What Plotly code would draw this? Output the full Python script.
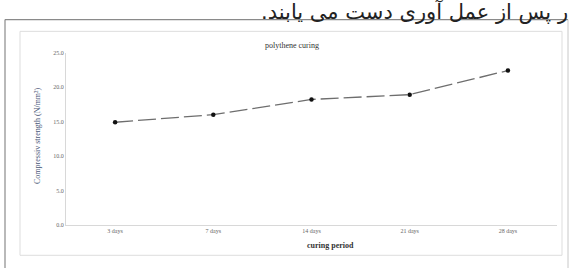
import plotly.graph_objects as go

categories = ["3 days", "7 days", "14 days", "21 days", "28 days"]
strength = [14.9, 16.0, 18.2, 18.9, 22.4]
y_ticks = [0, 5, 10, 15, 20, 25]
y_tick_labels = ["0.0", "5.0", "10.0", "15.0", "20.0", "25.0"]

W, H = 571, 271
def px(x): return x / W
def py(y): return 1 - y / H

fig = go.Figure()
fig.add_trace(go.Scatter(
    x=categories, y=strength, mode="lines+markers",
    line=dict(color="#6e6e6e", width=1.3, dash="18px,5px"),
    marker=dict(color="#111111", size=4.5),
    showlegend=False, cliponaxis=False,
))

fig.update_layout(
    width=W, height=H,
    margin=dict(l=0, r=0, t=0, b=0),
    paper_bgcolor="white", plot_bgcolor="white",
    font=dict(family="Liberation Serif", color="#555555"),
    xaxis=dict(
        domain=[px(66), px(557)], range=[-0.5, 4.5], type="category",
        showgrid=False, showline=True, linecolor="#d8d8d8", linewidth=1,
        ticks="", tickfont=dict(size=6, color="#666666"),
        anchor="y",
    ),
    yaxis=dict(
        domain=[py(227), py(50.7)], range=[0, 25],
        tickvals=y_ticks, ticktext=y_tick_labels,
        showgrid=False, showline=True, linecolor="#d8d8d8", linewidth=1,
        ticks="", tickfont=dict(size=6, color="#666666"), zeroline=False,
    ),
    shapes=[
        dict(type="line", xref="paper", yref="paper", x0=px(5), x1=px(568), y0=py(17), y1=py(17),
             line=dict(color="#8a8a8a", width=1.2)),
        dict(type="line", xref="paper", yref="paper", x0=px(5), x1=px(5), y0=py(17), y1=py(271),
             line=dict(color="#8a8a8a", width=1.2)),
        dict(type="line", xref="paper", yref="paper", x0=px(568), x1=px(568), y0=py(17), y1=py(271),
             line=dict(color="#c8c8c8", width=1)),
        dict(type="rect", xref="paper", yref="paper", x0=px(20), x1=px(562), y0=py(258), y1=py(29),
             line=dict(color="#dddddd", width=1)),
    ],
    annotations=[
        dict(text="\u200fر پس از عمل آوری دست می یابند.\u200f", xref="paper", yref="paper",
             x=px(570), y=py(8.5), xanchor="right", yanchor="middle", showarrow=False,
             font=dict(family="DejaVu Sans", size=21, color="#222222")),
        dict(text="polythene curing", xref="paper", yref="paper",
             x=px(292), y=py(43), xanchor="center", yanchor="middle", showarrow=False,
             font=dict(size=8, color="#333333")),
        dict(text="<b>curing period</b>", xref="paper", yref="paper",
             x=px(330), y=py(248), xanchor="center", yanchor="middle", showarrow=False,
             font=dict(size=8, color="#333333")),
        dict(text="Compressiv strength (N/mm²)", xref="paper", yref="paper",
             x=px(37), y=py(135), xanchor="center", yanchor="middle", showarrow=False,
             textangle=-90, font=dict(size=8, color="#4a5878")),
    ],
)

fig.write_html("out.html", config={"displayModeBar": False},
               post_script="document.body.style.margin='0';document.body.style.overflow='hidden';")
